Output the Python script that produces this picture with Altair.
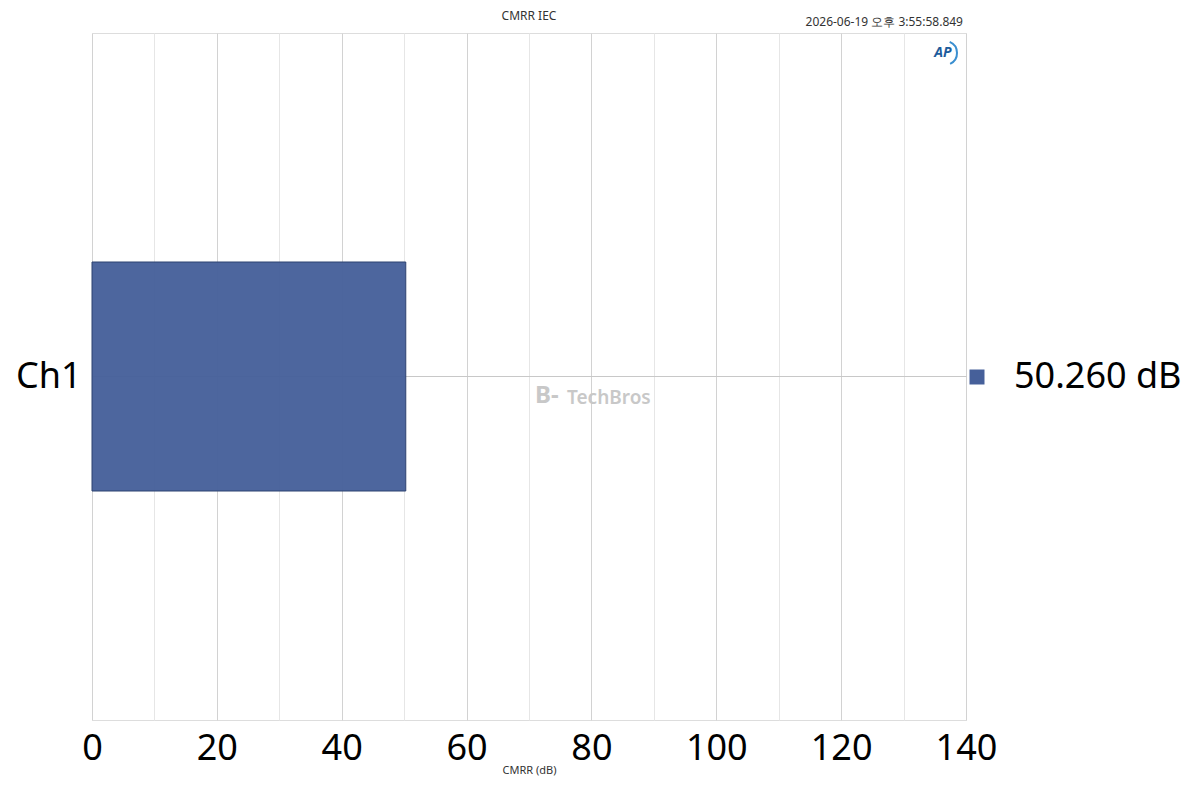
import altair as alt
import pandas as pd

# ---- data ----
channels = ["Ch1"]
cmrr_db = [50.260]
readouts = ["50.260  dB"]
x_ticks = list(range(0, 141, 10))
chart_title = "CMRR IEC"
timestamp = "2026-06-19 오후 3:55:58.849"
x_title = "CMRR (dB)"
watermark = "TechBros"

df = pd.DataFrame({"channel": channels, "cmrr": cmrr_db, "readout": readouts})

W, H = 874, 687
FONT = "Noto Sans"

bars = alt.Chart(df).mark_bar(fillOpacity=0.96, stroke="#2d4270", strokeWidth=1).encode(
    x=alt.X(
        "cmrr:Q",
        scale=alt.Scale(domain=[0, 140], nice=False, zero=True),
        axis=alt.Axis(
            values=x_ticks,
            labelExpr="datum.value % 20 === 0 ? datum.label : ''",
            labelFontSize=36,
            labelFont=FONT,
            labelColor="#000000",
            labelPadding=11,
            labelFlush=False,
            ticks=False,
            domain=False,
            grid=True,
            gridColor={"condition": {"test": "datum.value % 20 === 0", "value": "#d2d2d2"}, "value": "#e6e6e6"},
            title=x_title,
            titleFont=FONT,
            titleFontSize=11,
            titleFontWeight="normal",
            titleColor="#333333",
            titlePadding=-2,
        ),
    ),
    y=alt.Y(
        "channel:N",
        scale=alt.Scale(paddingInner=0, paddingOuter=1),
        axis=alt.Axis(
            title=None,
            labelFontSize=36,
            labelFont=FONT,
            labelColor="#000000",
            labelPadding=11,
            ticks=False,
            domain=False,
            grid=True,
            gridColor="#c8c8c8",
            bandPosition=0.5,
        ),
    ),
    color=alt.Color(
        "readout:N",
        scale=alt.Scale(range=["#46609a"]),
        legend=alt.Legend(
            title=None,
            orient="none",
            legendX=867,
            legendY=326,
            symbolType="square",
            symbolSize=225,
            symbolStrokeWidth=0,
            symbolOpacity=1,
            labelFontSize=36,
            labelFont=FONT,
            labelColor="#000000",
            labelOffset=19,
            labelLimit=0,
            padding=0,
        ),
    ),
)

title_txt = alt.Chart(pd.DataFrame({"t": [chart_title]})).mark_text(
    align="center", baseline="middle", fontSize=12, font=FONT, color="#333333"
).encode(x=alt.value(W / 2), y=alt.value(-17), text="t:N")

stamp = alt.Chart(pd.DataFrame({"t": [timestamp]})).mark_text(
    align="right", baseline="middle", fontSize=12, font=FONT, color="#333333"
).encode(x=alt.value(W - 3), y=alt.value(-11), text="t:N")

wm = alt.Chart(pd.DataFrame({"t": [watermark]})).mark_text(
    align="left", baseline="middle", fontSize=19, font=FONT, fontWeight=600, color="#c8c8c8"
).encode(x=alt.value(475), y=alt.value(365), text="t:N")

wm_icon = alt.Chart(pd.DataFrame({"t": ["B-"]})).mark_text(
    align="left", baseline="middle", fontSize=24, font=FONT, fontWeight="bold", color="#c8c8c8"
).encode(x=alt.value(443), y=alt.value(363), text="t:N")

ap = alt.Chart(pd.DataFrame({"t": ["AP"]})).mark_text(
    align="center", baseline="middle", fontSize=14, font=FONT, fontWeight="bold",
    fontStyle="italic", color="#1d5c9c"
).encode(x=alt.value(851), y=alt.value(20), text="t:N")

ap_arc = alt.Chart(pd.DataFrame({"t": ["AP"]})).mark_arc(
    radius=13, radius2=11, theta=0.4, theta2=2.7, color="#3a8fd0"
).encode(x=alt.value(853), y=alt.value(20))

chart = alt.layer(bars, wm_icon, wm, title_txt, stamp, ap_arc, ap).properties(
    width=W,
    height=H,
    autosize=alt.AutoSizeParams(type="none"),
    padding={"left": 84, "top": 25, "right": 216, "bottom": 62},
).configure_view(stroke="#808080", strokeWidth=1).configure(background="white")

chart.save("out.html", embed_options={"renderer": "svg", "actions": False})
